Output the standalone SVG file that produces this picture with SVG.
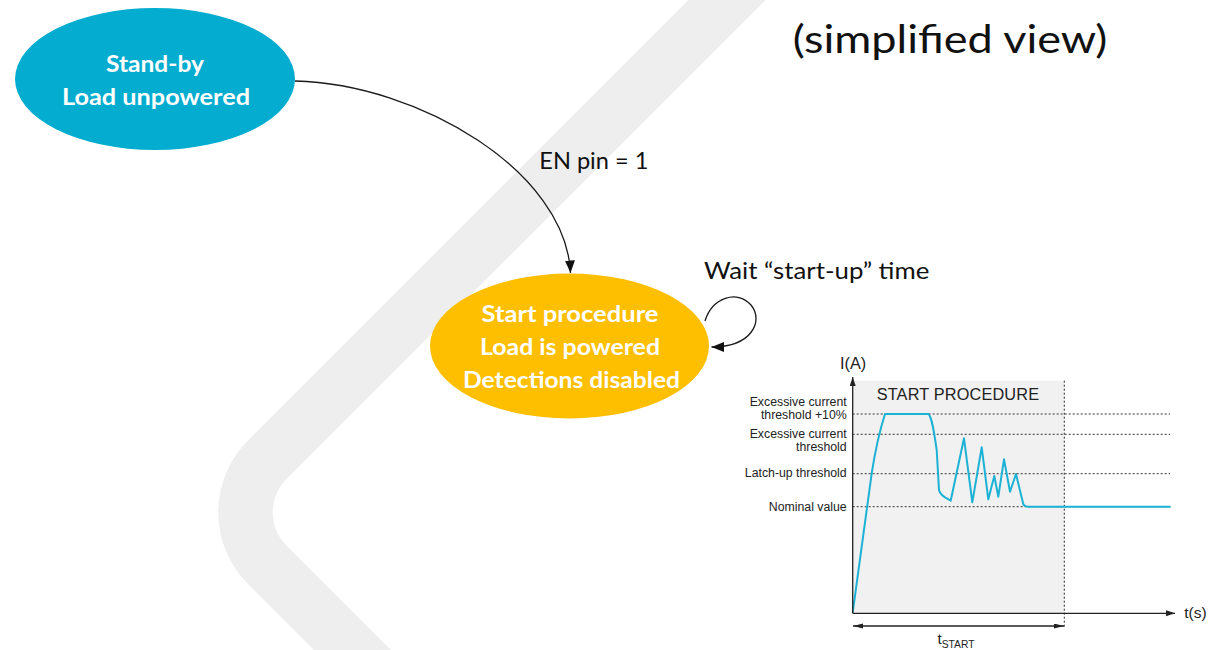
<svg xmlns="http://www.w3.org/2000/svg" width="1211" height="650" viewBox="0 0 1211 650">
  <style>
    .state-text { font-family: Lato, "Open Sans", "Liberation Sans", sans-serif; font-weight: bold; font-size: 22.5px; fill: #ffffff; text-anchor: middle; }
    .label { font-family: Lato, "Open Sans", "Liberation Sans", sans-serif; font-size: 24px; fill: #111111; }
    .title { font-family: Lato, "Open Sans", "Liberation Sans", sans-serif; font-size: 39px; fill: #111111; }
    .edge { fill: none; stroke: #1a1a1a; stroke-width: 1.3; }
    .chart-text { font-family: "Liberation Sans", Arial, sans-serif; fill: #222222; }
    .axis { fill: none; stroke: #222222; stroke-width: 1.3; }
    .dotted { fill: none; stroke: #333333; stroke-width: 1; stroke-dasharray: 2 2; }
    .current { fill: none; stroke: #1cb2d5; stroke-width: 2; stroke-linejoin: round; }
  </style>
  <defs>
    <marker id="arrow" markerUnits="userSpaceOnUse" markerWidth="13" markerHeight="10" refX="12.5" refY="5" orient="auto">
      <path d="M0,0 L12.5,5 L0,10 Z" fill="#111111"/>
    </marker>
    <marker id="axis-arrow" markerUnits="userSpaceOnUse" markerWidth="10" markerHeight="7" refX="9" refY="3" orient="auto">
      <path d="M0,0 L9,3 L0,6 Z" fill="#222222"/>
    </marker>
    <marker id="dim-arrow" markerUnits="userSpaceOnUse" markerWidth="11" markerHeight="6" refX="10" refY="2.5" orient="auto-start-reverse">
      <path d="M0,0 L10,2.5 L0,5 Z" fill="#222222"/>
    </marker>
  </defs>

  <rect x="0" y="0" width="1211" height="650" fill="#ffffff"/>

  <!-- decorative chevron band in the background -->
  <path d="M747,-20 L267.2,459.8 A74.2,74.2 0 0 0 267.2,564.7 L382.5,680" fill="none" stroke="#eeeeee" stroke-width="54.5"/>

  <text class="title" x="792.7" y="53.3" textLength="314.7" lengthAdjust="spacingAndGlyphs">(simplified view)</text>

  <g id="standby">
    <ellipse cx="155" cy="79" rx="140" ry="71" fill="#04accf"/>
    <text class="state-text" x="155" y="72" textLength="98" lengthAdjust="spacingAndGlyphs">Stand-by</text>
    <text class="state-text" x="156" y="105" textLength="188" lengthAdjust="spacingAndGlyphs">Load unpowered</text>
  </g>

  <g id="start-procedure">
    <ellipse cx="569.5" cy="346" rx="139.5" ry="72.5" fill="#fdbf00"/>
    <text class="state-text" x="570" y="322" textLength="177" lengthAdjust="spacingAndGlyphs">Start procedure</text>
    <text class="state-text" x="570" y="355" textLength="180" lengthAdjust="spacingAndGlyphs">Load is powered</text>
    <text class="state-text" x="571.5" y="388" textLength="217" lengthAdjust="spacingAndGlyphs">Detections disabled</text>
  </g>

  <g id="connectors">
    <path class="edge" d="M295,81 C420,84 566,172 570.5,273" marker-end="url(#arrow)"/>
    <text class="label" x="539.3" y="169.3" textLength="109" lengthAdjust="spacingAndGlyphs">EN pin = 1</text>
    <path class="edge" d="M705,321 C712,298 737,289 751,305 C764,321 752,347 711.5,347" marker-end="url(#arrow)"/>
    <text class="label" x="704" y="279.3" textLength="225.3" lengthAdjust="spacingAndGlyphs">Wait “start-up” time</text>
  </g>

  <g id="start-current-chart">
    <rect x="852.7" y="380.7" width="211.6" height="232.6" fill="#f1f1f1"/>
    <text class="chart-text" x="876.7" y="400" font-size="16.3" textLength="162.3">START PROCEDURE</text>

    <!-- threshold levels -->
    <path class="dotted" d="M852.7,414 H1170 M852.7,434.3 H1170 M852.7,473.7 H1170 M852.7,506.7 H1170 M1064.3,380.7 V627"/>

    <g class="chart-text" font-size="12.3" text-anchor="end">
      <text x="846.7" y="406">Excessive current</text>
      <text x="846.7" y="418.5">threshold +10%</text>
      <text x="846.7" y="438.3">Excessive current</text>
      <text x="846.7" y="451">threshold</text>
      <text x="846.7" y="477">Latch-up threshold</text>
      <text x="846.7" y="510.7">Nominal value</text>
    </g>

    <!-- load current during start-up -->
    <path class="current" d="M852.7,612.7 L871.7,473.3 C875,452 878,436 885,414 L928.3,414 C931,416 933,424 936.7,450 L939,490 C940,494 942,496 950.7,500.7 L964,438.3 L972.3,502.3 L981.7,447.3 L988.3,499.3 L994.3,476 L998.3,496.7 L1004,459.3 L1010,491.7 L1016,474 L1023.3,504.3 C1024.5,506 1025.5,506.7 1028,506.7 L1170.7,506.7"/>

    <!-- axes -->
    <path class="axis" d="M852.7,613.3 V377" marker-end="url(#axis-arrow)"/>
    <path class="axis" d="M852.7,613.3 H1175" marker-end="url(#axis-arrow)"/>
    <text class="chart-text" x="840" y="369.3" font-size="16.3">I(A)</text>
    <text class="chart-text" x="1184.3" y="618.3" font-size="15.5">t(s)</text>

    <!-- start-up duration -->
    <path class="axis" d="M853,626 H1064" marker-start="url(#dim-arrow)" marker-end="url(#dim-arrow)"/>
    <text class="chart-text" x="937.5" y="644" font-size="15">t<tspan font-size="10.3" dy="3.5">START</tspan></text>
  </g>
</svg>
